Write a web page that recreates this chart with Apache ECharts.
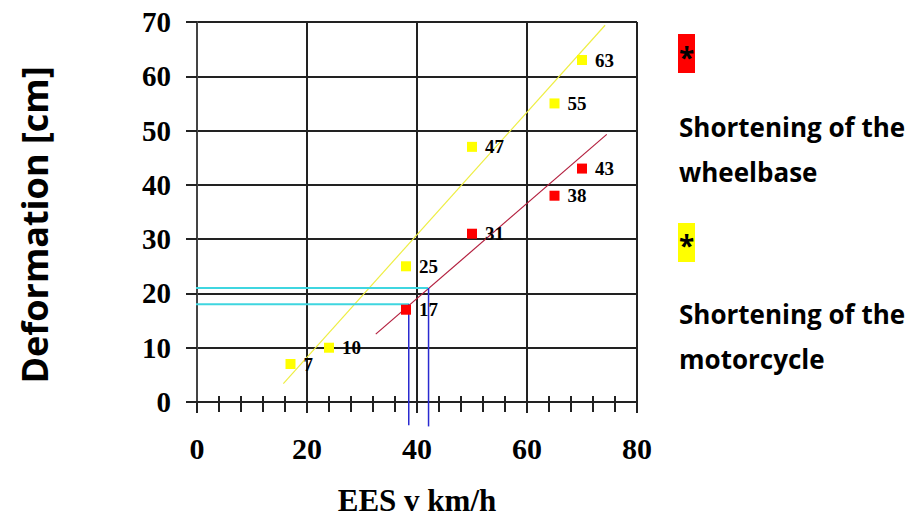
<!DOCTYPE html>
<html>
<head>
<meta charset="utf-8">
<script src="https://cdn.jsdelivr.net/npm/echarts@6/dist/echarts.min.js"></script>
<style>
html,body{margin:0;padding:0;background:#fff;}
#chart{width:916px;height:520px;}
</style>
</head>
<body>
<div id="chart"></div>
<script>
// ---- data ----
const motorcycleX = [17, 24, 38, 50, 65, 70];
const motorcycleY = [7, 10, 25, 47, 55, 63];
const wheelbaseX = [38, 50, 65, 70];
const wheelbaseY = [17, 31, 38, 43];
const motorcycleTrend = [[15.7, 3.4], [74.2, 69.4]];
const wheelbaseTrend = [[32.5, 12.5], [74.5, 49.3]];
const cyanLineA = [[-2.7, 21], [42, 21]];
const cyanLineB = [[-2.7, 18], [38.6, 18]];
const blueLineA = [[42.1, 21], [42.1, -4.5]];
const blueLineB = [[38.5, 18], [38.5, -4.3]];
const xTicks = [0, 20, 40, 60, 80];
const yTicks = [0, 10, 20, 30, 40, 50, 60, 70];
const xTitle = 'EES v km/h';
const yTitle = 'Deformation [cm]';
const legendWheelbase = ['Shortening of the', 'wheelbase'];
const legendMotorcycle = ['Shortening of the', 'motorcycle'];

const pairs = (xs, ys) => xs.map((x, i) => [x, ys[i]]);

const chart = echarts.init(document.getElementById('chart'), null, {renderer: 'svg'});
const gridColor = '#222';
const serif = '"Liberation Serif", "Times New Roman", serif';
const sans = '"Open Sans", "Noto Sans", sans-serif';

const lineSeries = (data, color, width, z) => ({
  type: 'line', data: data, symbol: 'none', clip: false, silent: true,
  lineStyle: {color: color, width: width}, z: z, animation: false
});

const pointLabel = {
  show: true, position: 'right', distance: 8, formatter: p => p.value[1],
  color: '#000', opacity: 1, fontFamily: serif, fontWeight: 'bold', fontSize: 19,
  textBorderWidth: 0
};

chart.setOption({
  animation: false,
  backgroundColor: '#fff',
  grid: {left: 197, right: 279, top: 22, bottom: 118, containLabel: false},
  xAxis: [{
    type: 'value', min: xTicks[0], max: xTicks[xTicks.length - 1], interval: 20,
    position: 'bottom',
    axisLine: {show: true, lineStyle: {color: gridColor, width: 2}},
    axisTick: {show: true, length: 11, lineStyle: {color: gridColor, width: 2}},
    minorTick: {show: true, splitNumber: 5, length: 10, lineStyle: {color: gridColor, width: 2}},
    splitLine: {show: true, lineStyle: {color: gridColor, width: 2}},
    axisLabel: {margin: 31, color: '#000', fontFamily: serif, fontWeight: 'bold', fontSize: 30}
  }, {
    type: 'value', min: xTicks[0], max: xTicks[xTicks.length - 1], interval: 20,
    position: 'bottom', offset: 0,
    axisLine: {show: false}, axisLabel: {show: false}, splitLine: {show: false},
    axisTick: {show: false, inside: true},
    minorTick: {show: true, splitNumber: 5, length: 6, lineStyle: {color: gridColor, width: 2}}
  }],
  yAxis: {
    type: 'value', min: yTicks[0], max: yTicks[yTicks.length - 1], interval: 10,
    axisLine: {show: true, lineStyle: {color: '#444', width: 2}},
    axisTick: {show: true, length: 11, lineStyle: {color: gridColor, width: 2}},
    splitLine: {show: true, lineStyle: {color: gridColor, width: 2}},
    axisLabel: {margin: 26, color: '#000', fontFamily: serif, fontWeight: 'bold', fontSize: 29}
  },
  series: [
    lineSeries(motorcycleTrend, '#eeee44', 1.2, 3),
    lineSeries(wheelbaseTrend, '#b3203f', 1.2, 3),
    lineSeries(cyanLineA, '#3fd6e0', 2, 4),
    lineSeries(cyanLineB, '#3fd6e0', 2, 4),
    lineSeries(blueLineA, '#2a2ad0', 1.5, 4),
    lineSeries(blueLineB, '#2a2ad0', 1.5, 4),
    {
      type: 'scatter', data: pairs(motorcycleX, motorcycleY), symbol: 'rect', symbolSize: 10,
      itemStyle: {color: '#ffff00', opacity: 1}, z: 5, label: pointLabel
    },
    {
      type: 'scatter', data: pairs(wheelbaseX, wheelbaseY), symbol: 'rect', symbolSize: 10,
      itemStyle: {color: '#ff0000', opacity: 1}, z: 5, label: pointLabel
    }
  ],
  graphic: [
    {type: 'text', x: 417, y: 500, style: {text: xTitle, font: 'bold 31px ' + serif, fill: '#000', align: 'center', verticalAlign: 'middle'}},
    {type: 'text', x: 34, y: 225, rotation: Math.PI / 2, style: {text: yTitle, font: 'bold 36px ' + sans, fill: '#000', align: 'center', verticalAlign: 'middle'}},
    {type: 'rect', shape: {x: 678, y: 34, width: 17, height: 39}, style: {fill: '#ff0000'}},
    {type: 'text', x: 686.5, y: 57, style: {text: '*', font: 'bold 28px ' + sans, fill: '#000', align: 'center', verticalAlign: 'middle'}},
    {type: 'text', x: 679, y: 127, style: {text: legendWheelbase[0], font: 'bold 26px ' + sans, fill: '#000', align: 'left', verticalAlign: 'middle'}},
    {type: 'text', x: 679, y: 172, style: {text: legendWheelbase[1], font: 'bold 26px ' + sans, fill: '#000', align: 'left', verticalAlign: 'middle'}},
    {type: 'rect', shape: {x: 678, y: 223, width: 17, height: 39}, style: {fill: '#ffff00'}},
    {type: 'text', x: 686.5, y: 245, style: {text: '*', font: 'bold 28px ' + sans, fill: '#000', align: 'center', verticalAlign: 'middle'}},
    {type: 'text', x: 679, y: 314, style: {text: legendMotorcycle[0], font: 'bold 26px ' + sans, fill: '#000', align: 'left', verticalAlign: 'middle'}},
    {type: 'text', x: 679, y: 359, style: {text: legendMotorcycle[1], font: 'bold 26px ' + sans, fill: '#000', align: 'left', verticalAlign: 'middle'}}
  ]
});
</script>
</body>
</html>
